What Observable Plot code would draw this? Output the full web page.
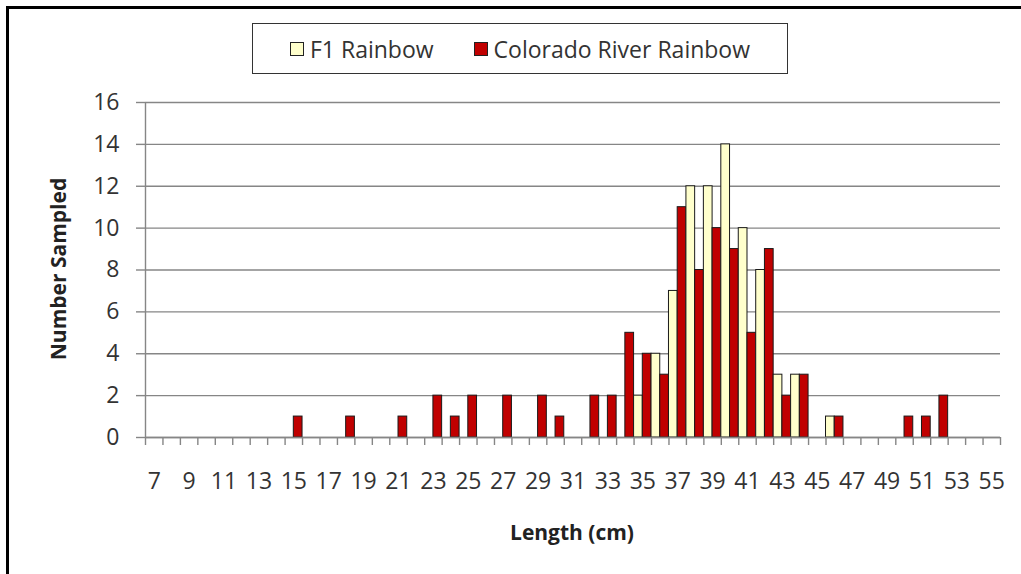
<!DOCTYPE html>
<html>
<head>
<meta charset="utf-8">
<script src="https://cdn.jsdelivr.net/npm/d3@7"></script>
<script src="https://cdn.jsdelivr.net/npm/@observablehq/plot@0.6"></script>
<style>
  html, body { margin: 0; padding: 0; background: #fff; overflow: hidden; }
  #wrap { position: relative; width: 1021px; height: 574px; overflow: hidden; font-family: "Open Sans", sans-serif; color: #333; }
  #wrap svg { position: absolute; left: 0; top: 0; }
  #frame { position: absolute; left: 6px; top: 6px; width: 1200px; height: 800px; border: 3px solid #000; box-sizing: border-box; }
  #legend { position: absolute; left: 252px; top: 23px; width: 536px; height: 51px; border: 1.5px solid #333; box-sizing: border-box;
            display: flex; align-items: center; justify-content: center; font-size: 23px; color: #333; background: #fff; }
  .item { display: flex; align-items: center; }
  .sw { width: 12px; height: 12px; border: 1px solid #222; margin-right: 6px; }
  .ylab { position: absolute; left: 58px; top: 269px; transform: translate(-50%, -50%) rotate(-90deg); font-weight: bold; font-size: 21px; color: #222; white-space: nowrap; }
  .xlab { position: absolute; left: 572px; top: 532px; transform: translate(-50%, -50%); font-weight: bold; font-size: 21px; color: #222; white-space: nowrap; }
</style>
</head>
<body>
<div id="wrap">
  <div id="frame"></div>
</div>
<script>
// Fish length categories (cm)
const lengths = [7, 8, 9, 10, 11, 12, 13, 14, 15, 16, 17, 18, 19, 20, 21, 22, 23, 24, 25, 26, 27, 28, 29, 30, 31,
                 32, 33, 34, 35, 36, 37, 38, 39, 40, 41, 42, 43, 44, 45, 46, 47, 48, 49, 50, 51, 52, 53, 54, 55];
// Number sampled, F1 Rainbow
const f1Counts = [0, 0, 0, 0, 0, 0, 0, 0, 0, 0, 0, 0, 0, 0, 0, 0, 0, 0, 0, 0, 0, 0, 0, 0, 0,
                  0, 0, 0, 2, 4, 7, 12, 12, 14, 10, 8, 3, 3, 0, 1, 0, 0, 0, 0, 0, 0, 0, 0, 0];
// Number sampled, Colorado River Rainbow
const coloradoCounts = [0, 0, 0, 0, 0, 0, 0, 0, 1, 0, 0, 1, 0, 0, 1, 0, 2, 1, 2, 0, 2, 0, 2, 1, 0,
                        2, 2, 5, 4, 3, 11, 8, 10, 9, 5, 9, 2, 3, 0, 1, 0, 0, 0, 1, 1, 2, 0, 0, 0];
const seriesNames = ["F1 Rainbow", "Colorado River Rainbow"];
const seriesColors = ["#FFFFCC", "#C00000"];
const xTickLabels = [7, 9, 11, 13, 15, 17, 19, 21, 23, 25, 27, 29, 31, 33, 35, 37, 39, 41, 43, 45, 47, 49, 51, 53, 55];
const yTicks = [0, 2, 4, 6, 8, 10, 12, 14, 16];

const rows = lengths.flatMap((len, i) => [
  {len, series: seriesNames[0], count: f1Counts[i], lo: len - 0.5, hi: len},
  {len, series: seriesNames[1], count: coloradoCounts[i], lo: len, hi: len + 0.5}
]).filter(d => d.count > 0);

const boundaries = lengths.map(l => l - 0.5).concat([lengths[lengths.length - 1] + 0.5]);
const grid = "#868686";

const chart = Plot.plot({
  width: 1021,
  height: 574,
  marginTop: 102,
  marginBottom: 137,
  marginLeft: 145,
  marginRight: 21,
  style: {fontFamily: "Open Sans, sans-serif", fontSize: "23px", color: "#333", background: "transparent", overflow: "visible"},
  x: {domain: [boundaries[0], boundaries[boundaries.length - 1]], label: null},
  y: {domain: [0, 16], label: null},
  color: {domain: seriesNames, range: seriesColors},
  marks: [
    Plot.gridY(yTicks, {stroke: grid, strokeOpacity: 1, strokeWidth: 1.4}),
    Plot.ruleX([boundaries[0]], {stroke: grid, strokeWidth: 1.4}),
    Plot.axisY({ticks: yTicks, tickSize: 9, tickPadding: 17, stroke: grid, strokeOpacity: 1, strokeWidth: 1.4, fill: "#333"}),
    Plot.axisX({ticks: boundaries, tickSize: 8, tickFormat: () => "", stroke: grid, strokeOpacity: 1, strokeWidth: 1.4}),
    Plot.axisX({ticks: xTickLabels, tickSize: 0, tickPadding: 35, tickFormat: d => String(d), fill: "#333"}),
    Plot.rectY(rows, {x1: "lo", x2: "hi", y1: 0, y2: "count", fill: "series", stroke: "#1a1a1a", strokeWidth: 1}),
    Plot.ruleY([0], {stroke: grid, strokeWidth: 1.4})
  ]
});

const wrap = document.getElementById("wrap");
wrap.appendChild(chart);

const legend = document.createElement("div");
legend.id = "legend";
seriesNames.forEach((name, i) => {
  const item = document.createElement("div");
  item.className = "item";
  if (i > 0) item.style.marginLeft = "40px";
  const sw = document.createElement("div");
  sw.className = "sw";
  sw.style.background = seriesColors[i];
  const t = document.createElement("span");
  t.textContent = name;
  item.appendChild(sw);
  item.appendChild(t);
  legend.appendChild(item);
});
wrap.appendChild(legend);

const yl = document.createElement("div");
yl.className = "ylab";
yl.textContent = "Number Sampled";
wrap.appendChild(yl);

const xl = document.createElement("div");
xl.className = "xlab";
xl.textContent = "Length (cm)";
wrap.appendChild(xl);
</script>
</body>
</html>
